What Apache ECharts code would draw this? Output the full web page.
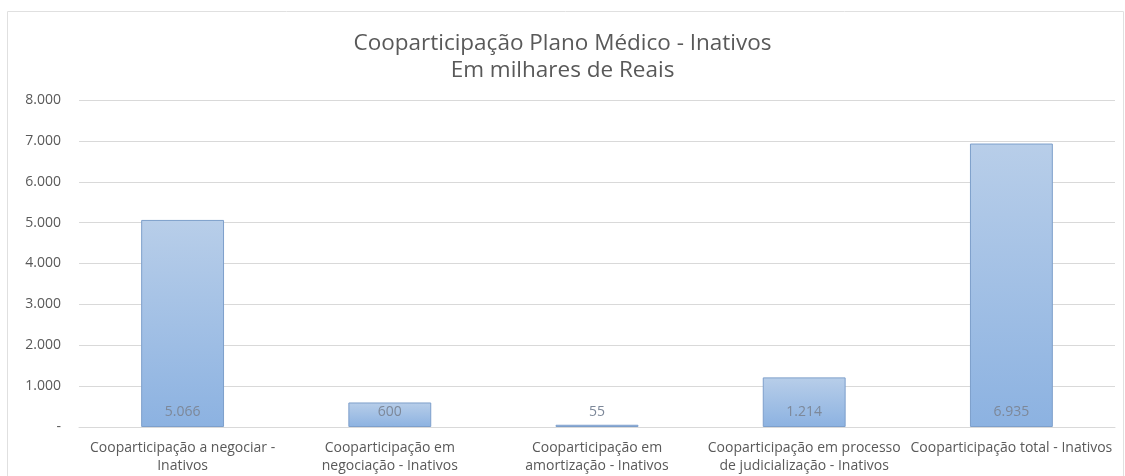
<!DOCTYPE html>
<html>
<head>
<meta charset="utf-8">
<script src="https://cdn.jsdelivr.net/npm/echarts@6/dist/echarts.min.js"></script>
<style>
  html, body { margin: 0; padding: 0; background: #fff; }
  #chart { width: 1125px; height: 476px; }
</style>
</head>
<body>
<div id="chart"></div>
<script>
const TEXT = "#595959";
const GRID = "#d9d9d9";
const FONT = "'Open Sans', 'Noto Sans', sans-serif";

const titleLines = ["Cooparticipação Plano Médico - Inativos", "Em milhares de Reais"];

const categories = [
  "Cooparticipação a negociar -\nInativos",
  "Cooparticipação em\nnegociação - Inativos",
  "Cooparticipação em\namortização - Inativos",
  "Cooparticipação em processo\nde judicialização - Inativos",
  "Cooparticipação total - Inativos",
];
const values = [5066, 600, 55, 1214, 6935];

function fmt(v) {
  if (v === 0) return "-";
  return String(Math.round(v)).replace(/\B(?=(\d{3})+(?!\d))/g, ".");
}

const chart = echarts.init(document.getElementById("chart"), undefined, { renderer: "canvas" });

chart.setOption({
  animation: false,
  textStyle: { fontFamily: FONT },
  graphic: [{
    type: "rect",
    shape: { x: 7.5, y: 11.5, width: 1116, height: 470 },
    style: { fill: "none", stroke: "#e0e0e0", lineWidth: 1 },
    silent: true,
  }],
  title: {
    text: titleLines.join("\n"),
    left: "center",
    top: 30,
    padding: [0, 0, 0, 14],
    textStyle: { color: TEXT, fontSize: 22.5, fontWeight: "normal", lineHeight: 27, fontFamily: FONT },
  },
  grid: { left: 79, right: 10, top: 100, bottom: 49, containLabel: false },
  xAxis: {
    type: "category",
    data: categories,
    axisLine: { lineStyle: { color: GRID } },
    axisTick: { show: false },
    axisLabel: {
      interval: 0,
      color: TEXT,
      fontSize: 14,
      lineHeight: 18,
      margin: 12,
      fontFamily: FONT,
    },
  },
  yAxis: {
    type: "value",
    min: 0,
    max: 8000,
    interval: 1000,
    axisLine: { show: false },
    axisTick: { show: false },
    axisLabel: { color: TEXT, fontSize: 14, margin: 18, formatter: fmt, fontFamily: FONT },
    splitLine: { lineStyle: { color: GRID } },
  },
  series: [{
    type: "bar",
    data: values,
    barWidth: "40%",
    itemStyle: {
      color: new echarts.graphic.LinearGradient(0, 0, 0, 1, [
        { offset: 0, color: "#b8cee9" },
        { offset: 1, color: "#8cb2e1" },
      ]),
      borderColor: "#7d9fcb",
      borderWidth: 1,
    },
    label: {
      show: true,
      position: "insideBottom",
      distance: 8,
      color: "#7d8899",
      fontSize: 14,
      formatter: (p) => fmt(p.value),
      fontFamily: FONT,
    },
  }],
});
</script>
</body>
</html>
